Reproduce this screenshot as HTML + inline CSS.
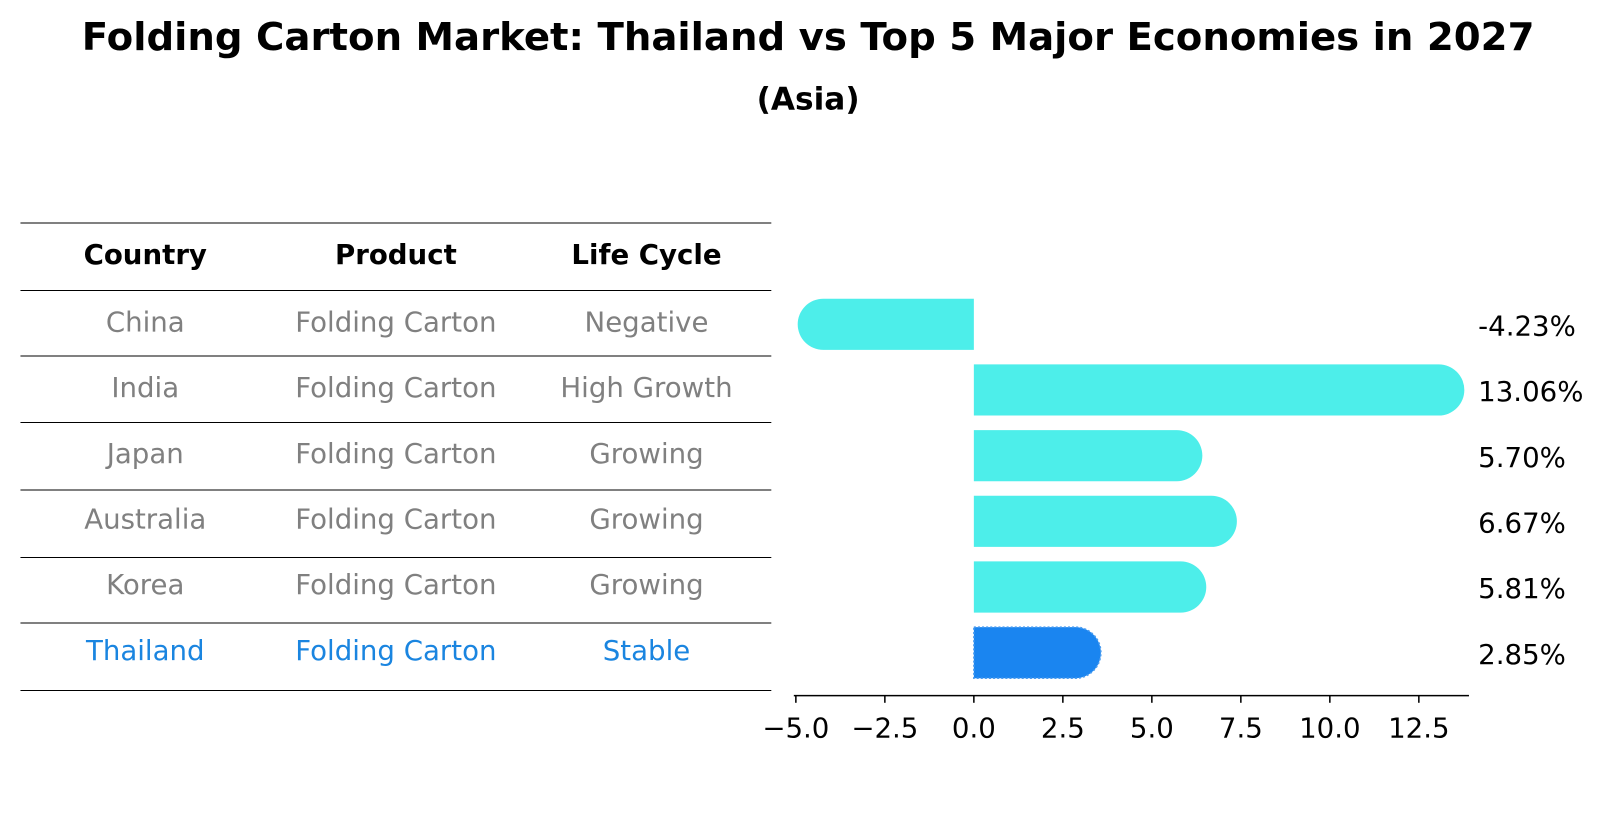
<!DOCTYPE html>
<html><head><meta charset="utf-8"><style>
body{margin:0;background:#fff;font-family:"Liberation Sans","DejaVu Sans",sans-serif;}
#c{position:relative;width:1604px;height:823px;overflow:hidden}
</style></head><body><div id="c">
<svg id="s" width="1604" height="823" viewBox="0 0 1568 804.5" font-family="DejaVu Sans, Liberation Sans, sans-serif">
<text x="790" y="49" text-anchor="middle" font-size="37.8" font-weight="bold">Folding Carton Market: Thailand vs Top 5 Major Economies in 2027</text>
<text x="790" y="107" text-anchor="middle" font-size="30.5" font-weight="bold">(Asia)</text>
<g id="tbl"></g>
<g id="bars"></g>
</svg></div>
<script>
const countries=["China","India","Japan","Australia","Korea","Thailand"];
const products=["Folding Carton","Folding Carton","Folding Carton","Folding Carton","Folding Carton","Folding Carton"];
const lifeCycles=["Negative","High Growth","Growing","Growing","Growing","Stable"];
const growth=[-4.23,13.06,5.70,6.67,5.81,2.85];
const ticks=[-5,-2.5,0,2.5,5,7.5,10,12.5];
const NS="http://www.w3.org/2000/svg";
function mk(t,a,p){const e=document.createElementNS(NS,t);for(const k in a)e.setAttribute(k,a[k]);p.appendChild(e);return e;}
const tbl=document.getElementById('tbl'),bars=document.getElementById('bars');
const lineYs=[218,284,348,413,479,545,609,675];
lineYs.forEach(y=>{const l=mk('line',{x1:20,x2:754,y1:y,y2:y,stroke:'#000','stroke-width':1},tbl);

});
const cx=[142,387,632];
["Country","Product","Life Cycle"].forEach((h,i)=>{const t=mk('text',{x:cx[i],y:258,'text-anchor':'middle','font-size':27,'font-weight':'bold'},tbl);t.textContent=h;

});
const rowY=i=>317+i*64.2;
countries.forEach((c,i)=>{const col=i===countries.length-1?'#1a85e0':'#808080';
[c,products[i],lifeCycles[i]].forEach((v,j)=>{const t=mk('text',{x:cx[j],y:rowY(i)+7,'text-anchor':'middle','font-size':27,fill:col},tbl);t.textContent=v;

});});
const x0=952,ppu=34.8,X=v=>x0+v*ppu,h=50,r=25;
growth.forEach((g,i)=>{const y=rowY(i)-h/2,thai=i===growth.length-1;const col=thai?'#1a85f0':'#4deeea';
const xe=X(g);let d;
if(g>=0)d=`M${x0},${y}H${xe}A${r},${r} 0 0 1 ${xe},${y+h}H${x0}Z`;
else d=`M${x0},${y}H${xe}A${r},${r} 0 0 0 ${xe},${y+h}H${x0}Z`;
const p=mk('path',{d:d,fill:col},bars);
if(thai){p.setAttribute('stroke','#4a9cf0');p.setAttribute('stroke-dasharray','2,2');p.setAttribute('stroke-width','1.5');}


const t=mk('text',{x:1445,y:rowY(i)+11,'font-size':27},bars);t.textContent=g.toFixed(2)+'%';

});
const ax=mk('line',{x1:776,x2:1436,y1:680,y2:680,stroke:'#000','stroke-width':1.5},bars);


ticks.forEach(v=>{const l=mk('line',{x1:X(v),x2:X(v),y1:680,y2:687,stroke:'#000','stroke-width':1.5},bars);


const t=mk('text',{x:X(v),y:721,'text-anchor':'middle','font-size':27},bars);t.textContent=(v<0?'\u2212':'')+Math.abs(v).toFixed(1);

});
</script></body></html>
